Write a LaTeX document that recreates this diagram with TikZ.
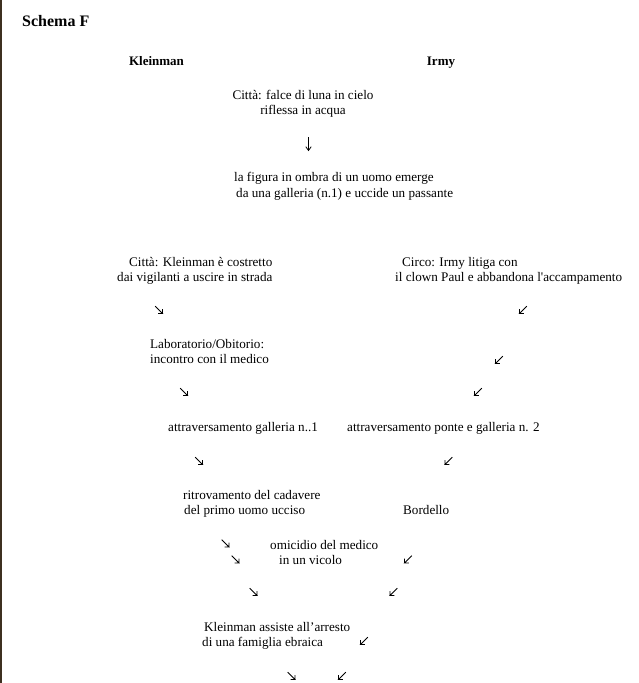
\documentclass[tikz,border=0pt]{standalone}
\usepackage{fontspec}
\setmainfont{Liberation Serif}
\begin{document}
\begin{tikzpicture}[x=1pt,y=-1pt,
  txt/.style={inner sep=0pt, font=\fontsize{13.15}{15.5}\selectfont},
  hd/.style={inner sep=0pt, font=\fontsize{13}{15.5}\selectfont\bfseries},
  glyph/.style={line width=0.8pt, line cap=rect},
  arrse/.pic={\draw[glyph] (-3.5,-3.5) -- (3.5,3.5) -- (-0.5,3.5) (3.5,3.5) -- (3.5,-0.5);},
  arrsw/.pic={\draw[glyph] (3.5,-3.5) -- (-3.5,3.5) -- (0.5,3.5) (-3.5,3.5) -- (-3.5,-0.5);},
  arrdn/.pic={\draw[glyph] (0,-6.5) -- (0,6.5) (-2.5,3) -- (0,6.5) -- (2.5,3);}
]
\useasboundingbox (0,0) rectangle (638,683);
\fill[fill={rgb,255:red,62;green,48;blue,32}] (0,0) rectangle (1.8,683);

% titles
\node[inner sep=0pt, anchor=base west, font=\fontsize{16}{18}\selectfont\bfseries] (title) at (22,26) {Schema F};
\node[hd, anchor=base] (hk) at (156.5,65) {Kleinman};
\node[hd, anchor=base] (hi) at (441,65) {Irmy};

% common opening
\node[txt, anchor=base] (c1a) at (303,99) {Città: falce di luna in cielo};
\node[txt, anchor=base] (c1b) at (303,114.5) {riflessa in acqua};
\pic (d1) at (308.5,144) {arrdn};
\node[txt, anchor=base west] (c2a) at (234,181.7) {la figura in ombra di un uomo emerge};
\node[txt, anchor=base west] (c2b) at (236,197.3) {da una galleria (n.1) e uccide un passante};

% Kleinman branch
\node[txt, anchor=base west] (k1a) at (129,266) {Città: Kleinman è costretto};
\node[txt, anchor=base west] (k1b) at (117,281.5) {dai vigilanti a uscire in strada};
\pic (ka1) at (159,310) {arrse};
\node[txt, anchor=base west] (k2a) at (150,348) {Laboratorio/Obitorio:};
\node[txt, anchor=base west] (k2b) at (150,363.5) {incontro con il medico};
\pic (ka2) at (184,392) {arrse};
\node[txt, anchor=base west] (k3) at (168,431) {attraversamento galleria n..1};
\pic (ka3) at (199,461) {arrse};
\node[txt, anchor=base west] (k4a) at (183,499) {ritrovamento del cadavere};
\node[txt, anchor=base west] (k4b) at (184,514.5) {del primo uomo ucciso};
\pic (ka4) at (225.5,543.5) {arrse};
\pic (ka5) at (235.5,559.5) {arrse};
\pic (ka6) at (253.5,592) {arrse};
\node[txt, anchor=base west] (k5a) at (204,631) {Kleinman assiste all’arresto};
\node[txt, anchor=base west] (k5b) at (202,646.5) {di una famiglia ebraica};
\pic (ka7) at (291.5,676) {arrse};

% Irmy branch
\node[txt, anchor=base west] (i1a) at (402,266) {Circo: Irmy litiga con};
\node[txt, anchor=base west] (i1b) at (395,281.5) {il clown Paul e abbandona l\textquotesingle accampamento};
\pic (ia1) at (523,310) {arrsw};
\pic (ia2) at (499,360) {arrsw};
\pic (ia3) at (478,392) {arrsw};
\node[txt, anchor=base west] (i2) at (347,431) {attraversamento ponte e galleria n. 2};
\pic (ia4) at (448.5,461) {arrsw};
\node[txt, anchor=base west] (i3) at (403,514.5) {Bordello};
\pic (ia5) at (408,559.5) {arrsw};
\pic (ia6) at (393.5,592) {arrsw};
\pic (ia7) at (364,641) {arrsw};
\pic (ia8) at (342,676) {arrsw};

% shared
\node[txt, anchor=base west] (m1a) at (270,549) {omicidio del medico};
\node[txt, anchor=base west] (m1b) at (279,564) {in un vicolo};
\end{tikzpicture}
\end{document}
